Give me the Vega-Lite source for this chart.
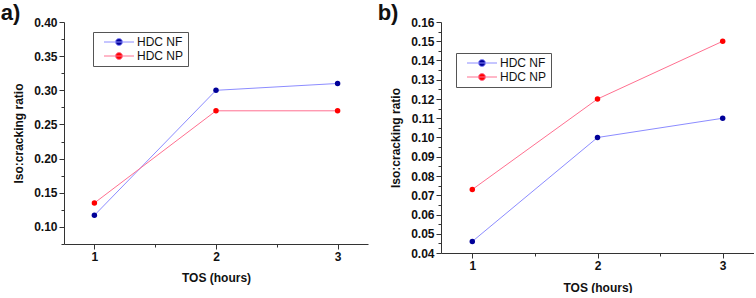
{
  "$schema": "https://vega.github.io/schema/vega-lite/v6.json",
  "padding": {"left": 0, "top": 2, "right": 0, "bottom": 0},
  "background": "white",
  "config": {
    "font": "Liberation Sans",
    "view": {"stroke": null},
    "axis": {
      "grid": false,
      "domainColor": "#333",
      "tickColor": "#333",
      "labelFont": "Liberation Sans",
      "labelFontSize": 12,
      "labelFontWeight": "bold",
      "labelColor": "#111",
      "labelPadding": 2,
      "labelOverlap": false,
      "titleFont": "Liberation Sans",
      "titleFontSize": 12,
      "titleFontWeight": "bold",
      "titleColor": "#111"
    },
    "legend": {
      "title": null,
      "orient": "none",
      "labelFont": "Liberation Sans",
      "labelFontSize": 12,
      "labelColor": "#111",
      "strokeColor": "#555",
      "fillColor": "white",
      "padding": 4,
      "rowPadding": 2,
      "symbolOffset": 16,
      "labelOffset": 12,
      "symbolType": "M-3,0H3M0.69,0A0.69,0.69 0 1 1 -0.69,0A0.69,0.69 0 1 1 0.69,0Z",
      "symbolSize": 100,
      "symbolStrokeWidth": 1
    }
  },
  "data": {
    "values": [
      {"panel": "a", "series": "HDC NF", "tos": 1, "ratio": 0.117},
      {"panel": "a", "series": "HDC NF", "tos": 2, "ratio": 0.300},
      {"panel": "a", "series": "HDC NF", "tos": 3, "ratio": 0.310},
      {"panel": "a", "series": "HDC NP", "tos": 1, "ratio": 0.135},
      {"panel": "a", "series": "HDC NP", "tos": 2, "ratio": 0.270},
      {"panel": "a", "series": "HDC NP", "tos": 3, "ratio": 0.270},
      {"panel": "b", "series": "HDC NF", "tos": 1, "ratio": 0.046},
      {"panel": "b", "series": "HDC NF", "tos": 2, "ratio": 0.100},
      {"panel": "b", "series": "HDC NF", "tos": 3, "ratio": 0.110},
      {"panel": "b", "series": "HDC NP", "tos": 1, "ratio": 0.073},
      {"panel": "b", "series": "HDC NP", "tos": 2, "ratio": 0.120},
      {"panel": "b", "series": "HDC NP", "tos": 3, "ratio": 0.150}
    ]
  },
  "spacing": 9,
  "resolve": {"scale": {"fill": "independent", "stroke": "independent"}, "legend": {"fill": "independent", "stroke": "independent"}},
  "hconcat": [
    {
      "title": {"text": "a)", "anchor": "start", "frame": "bounds", "fontSize": 22, "fontWeight": "bold", "color": "#111", "baseline": "bottom", "offset": -31, "dx": -12},
      "width": 304,
      "height": 222,
      "transform": [{"filter": "datum.panel == 'a'"}],
      "encoding": {
        "x": {"field": "tos", "type": "quantitative", "title": "TOS (hours)",
          "scale": {"domain": [0.75, 3.25], "nice": false, "zero": false},
          "axis": {"values": [1, 1.5, 2, 2.5, 3], "titlePadding": 10,
            "labelExpr": "datum.value == round(datum.value) ? format(datum.value, 'd') : ''",
            "tickSize": {"condition": {"test": "datum.value == round(datum.value)", "value": 5}, "value": 3}}},
        "y": {"field": "ratio", "type": "quantitative", "title": "Iso:cracking ratio",
          "scale": {"domain": [0.075, 0.40], "nice": false, "zero": false},
          "axis": {"values": [0.075, 0.1, 0.125, 0.15, 0.175, 0.2, 0.225, 0.25, 0.275, 0.3, 0.325, 0.35, 0.375, 0.4], "titlePadding": 8,
            "labelExpr": "abs(datum.value*20 - round(datum.value*20)) < 0.001 ? format(datum.value, '.2f') : ''",
            "tickSize": {"condition": {"test": "abs(datum.value*20 - round(datum.value*20)) < 0.001", "value": 5}, "value": 3}}}
      },
      "layer": [
        {"mark": {"type": "line", "strokeWidth": 1},
          "encoding": {"stroke": {"field": "series", "type": "nominal",
            "scale": {"domain": ["HDC NF", "HDC NP"], "range": ["#8c8cff", "#ff7090"]},
            "legend": {"orient": "none", "legendX": 29, "legendY": 10}}}},
        {"mark": {"type": "point", "filled": true, "opacity": 1, "size": 30},
          "encoding": {"fill": {"field": "series", "type": "nominal",
            "scale": {"domain": ["HDC NF", "HDC NP"], "range": ["#000099", "#ff0000"]},
            "legend": {"orient": "none", "legendX": 29, "legendY": 10}}}}
      ]
    },
    {
      "title": {"text": "b)", "anchor": "start", "frame": "bounds", "fontSize": 22, "fontWeight": "bold", "color": "#111", "baseline": "bottom", "offset": -31, "dx": -12},
      "width": 313,
      "height": 231,
      "transform": [{"filter": "datum.panel == 'b'"}],
      "encoding": {
        "x": {"field": "tos", "type": "quantitative", "title": "TOS (hours)",
          "scale": {"domain": [0.75, 3.25], "nice": false, "zero": false},
          "axis": {"values": [1, 1.5, 2, 2.5, 3], "titlePadding": 11,
            "labelExpr": "datum.value == round(datum.value) ? format(datum.value, 'd') : ''",
            "tickSize": {"condition": {"test": "datum.value == round(datum.value)", "value": 5}, "value": 3}}},
        "y": {"field": "ratio", "type": "quantitative", "title": "Iso:cracking ratio",
          "scale": {"domain": [0.04, 0.16], "nice": false, "zero": false},
          "axis": {"values": [0.04, 0.045, 0.05, 0.055, 0.06, 0.065, 0.07, 0.075, 0.08, 0.085, 0.09, 0.095, 0.1, 0.105, 0.11, 0.115, 0.12, 0.125, 0.13, 0.135, 0.14, 0.145, 0.15, 0.155, 0.16], "titlePadding": 8,
            "labelExpr": "abs(datum.value*100 - round(datum.value*100)) < 0.001 ? format(datum.value, '.2f') : ''",
            "tickSize": {"condition": {"test": "abs(datum.value*100 - round(datum.value*100)) < 0.001", "value": 5}, "value": 3}}}
      },
      "layer": [
        {"mark": {"type": "line", "strokeWidth": 1},
          "encoding": {"stroke": {"field": "series", "type": "nominal",
            "scale": {"domain": ["HDC NF", "HDC NP"], "range": ["#8c8cff", "#ff7090"]},
            "legend": {"orient": "none", "legendX": 15, "legendY": 31}}}},
        {"mark": {"type": "point", "filled": true, "opacity": 1, "size": 30},
          "encoding": {"fill": {"field": "series", "type": "nominal",
            "scale": {"domain": ["HDC NF", "HDC NP"], "range": ["#000099", "#ff0000"]},
            "legend": {"orient": "none", "legendX": 15, "legendY": 31}}}}
      ]
    }
  ]
}
